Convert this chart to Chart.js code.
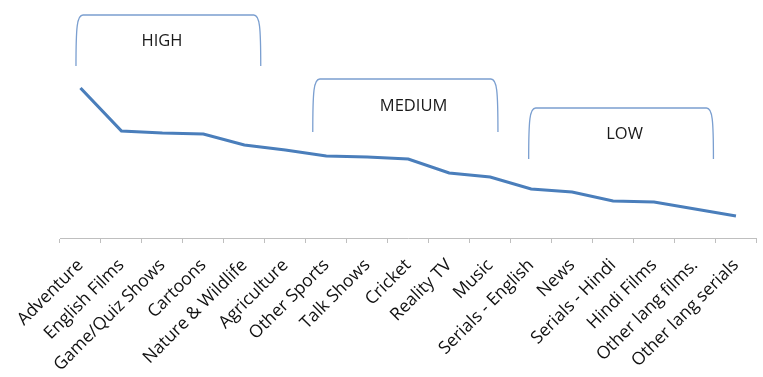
<!DOCTYPE html>
<html>
<head>
<meta charset="utf-8">
<script src="https://cdn.jsdelivr.net/npm/chart.js@4/dist/chart.umd.min.js"></script>
<style>
  html, body { margin: 0; padding: 0; background: #fff; }
  #wrap { width: 763px; height: 377px; position: relative; }
</style>
</head>
<body>
<div id="wrap"><canvas id="c"></canvas></div>
<script>
// Genres ranked by interest
const categories = [
  'Adventure', 'English Films', 'Game/Quiz Shows', 'Cartoons', 'Nature & Wildlife',
  'Agriculture', 'Other Sports', 'Talk Shows', 'Cricket', 'Reality TV', 'Music',
  'Serials - English', 'News', 'Serials - Hindi', 'Hindi Films', 'Other lang films.',
  'Other lang serials'
];
const scores = [150, 107, 105, 104, 93, 88, 82, 81, 79, 65, 61, 49, 46, 37, 36, 29, 22];

// Interest bands drawn as brackets above the line (category index range, value range)
const bandNames = ['HIGH', 'MEDIUM', 'LOW'];
const bandFrom = [-0.11, 5.67, 10.94];
const bandTo = [4.40, 10.19, 15.45];
const bandTextAt = [1.99, 8.13, 13.28];
const bandTop = [223, 159, 130];
const bandBottom = [172, 106, 79];

const bandPlugin = {
  id: 'bands',
  afterDraw(chart) {
    const { ctx, scales: { x, y } } = chart;
    ctx.save();
    ctx.strokeStyle = '#7b9fd0';
    ctx.lineWidth = 1.3;
    bandNames.forEach((name, i) => {
      const x0 = x.getPixelForValue(bandFrom[i]);
      const x1 = x.getPixelForValue(bandTo[i]);
      const yt = y.getPixelForValue(bandTop[i]);
      const yb = y.getPixelForValue(bandBottom[i]);
      ctx.beginPath();
      ctx.moveTo(x0, yb);
      ctx.bezierCurveTo(x0, yt + 12, x0 + 1, yt, x0 + 7, yt);
      ctx.lineTo(x1 - 7, yt);
      ctx.bezierCurveTo(x1 - 1, yt, x1, yt + 12, x1, yb);
      ctx.stroke();
      ctx.fillStyle = '#1a1a1a';
      ctx.font = '16.5px "Open Sans"';
      ctx.textAlign = 'center';
      ctx.textBaseline = 'middle';
      ctx.fillText(name, x.getPixelForValue(bandTextAt[i]), (yt + yb) / 2 + 1);
    });
    ctx.restore();
  }
};

new Chart(document.getElementById('c'), {
  type: 'line',
  data: {
    labels: categories,
    datasets: [{
      data: scores,
      borderColor: '#4a7ebb',
      borderWidth: 3.2,
      tension: 0,
      pointRadius: 0,
      fill: false
    }]
  },
  options: {
    responsive: true,
    maintainAspectRatio: false,
    animation: false,
    layout: { padding: { left: 60, right: 6, top: 8, bottom: 0 } },
    plugins: { legend: { display: false }, tooltip: { enabled: false } },
    scales: {
      x: {
        offset: true,
        grid: { offset: true, drawOnChartArea: false, drawTicks: true, tickLength: 5, color: '#bfbfbf' },
        border: { display: true, color: '#bfbfbf' },
        ticks: {
          autoSkip: false,
          minRotation: 45,
          maxRotation: 45,
          padding: 12,
          color: '#111',
          font: { family: '"Open Sans"', size: 17.5 }
        },
        afterFit(s) { s.height = 139; }
      },
      y: { display: false, min: 0, max: 230 }
    }
  },
  plugins: [bandPlugin]
});
</script>
</body>
</html>
